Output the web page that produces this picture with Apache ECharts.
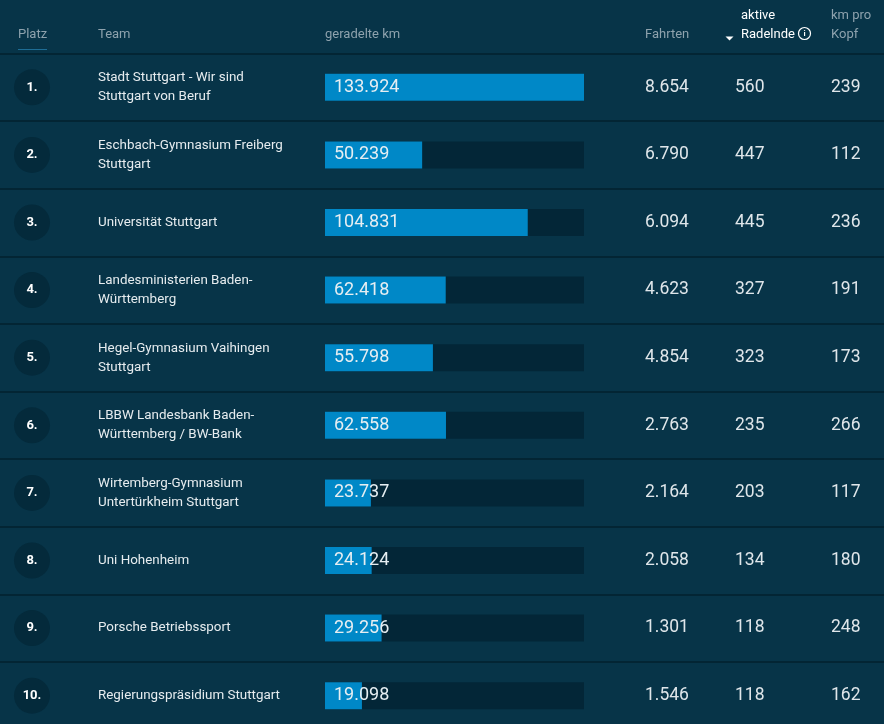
<!DOCTYPE html>
<html><head><meta charset="utf-8">
<script src="https://cdn.jsdelivr.net/npm/echarts@6/dist/echarts.min.js"></script>
<style>html,body{margin:0;padding:0;background:#073448;}#c{width:884px;height:724px;}</style>
</head><body><div id="c"></div>
<script>
const platz = ['1.','2.','3.','4.','5.','6.','7.','8.','9.','10.'];
const teams = [
  'Stadt Stuttgart - Wir sind\nStuttgart von Beruf',
  'Eschbach-Gymnasium Freiberg\nStuttgart',
  'Universität Stuttgart',
  'Landesministerien Baden-\nWürttemberg',
  'Hegel-Gymnasium Vaihingen\nStuttgart',
  'LBBW Landesbank Baden-\nWürttemberg / BW-Bank',
  'Wirtemberg-Gymnasium\nUntertürkheim Stuttgart',
  'Uni Hohenheim',
  'Porsche Betriebssport',
  'Regierungspräsidium Stuttgart'
];
const km = [133924, 50239, 104831, 62418, 55798, 62558, 23737, 24124, 29256, 19098];
const fahrten = [8654, 6790, 6094, 4623, 4854, 2763, 2164, 2058, 1301, 1546];
const radelnde = [560, 447, 445, 327, 323, 235, 203, 134, 118, 118];
const kmProKopf = [239, 112, 236, 191, 173, 266, 117, 180, 248, 162];
const headers = {platz:'Platz', team:'Team', km:'geradelte km', fahrten:'Fahrten', rad1:'aktive', rad2:'Radelnde', kopf1:'km pro', kopf2:'Kopf'};

const fmt = n => String(n).replace(/\B(?=(\d{3})+(?!\d))/g, '.');
const FONT = 'Roboto, "Noto Sans", sans-serif';
const maxKm = Math.max(...km);
// bar track: from x=325, 259px wide inside a full-width grid
const W = 884, barX = 325, barW = 259;
const unit = maxKm / barW;
const xMin = -barX * unit, xMax = (W - barX) * unit;

function catAxis(data, margin, extra) {
  return {
    type: 'category', inverse: true, data: data, position: 'left',
    axisLine: {show: false}, axisTick: {show: false}, splitLine: {show: false},
    axisLabel: Object.assign({inside: true, margin: margin, interval: 0, fontFamily: FONT}, extra)
  };
}

const chart = echarts.init(document.getElementById('c'), null, {renderer: 'canvas'});
const yAxes = [
  Object.assign(catAxis(platz, 32, {
    align: 'center', formatter: v => '{c|' + v + '}',
    rich: {c: {width: 36, height: 36, borderRadius: 18, backgroundColor: '#042a3b', align: 'center',
      color: '#ffffff', fontWeight: 'bold', fontSize: 13, fontFamily: FONT}}
  }), {splitLine: {show: true, interval: 0, lineStyle: {color: '#03202e', width: 1.5}}}),
  catAxis(teams, 98, {align: 'left', color: '#e6ecef', fontSize: 13.4, lineHeight: 19}),
  catAxis(fahrten.map(fmt), 645, {align: 'left', color: '#dfe6ea', fontSize: 17.5}),
  catAxis(radelnde.map(fmt), 735, {align: 'left', color: '#dfe6ea', fontSize: 17.5}),
  catAxis(kmProKopf.map(fmt), 831, {align: 'left', color: '#dfe6ea', fontSize: 17.5})
];

const hdr = (text, x, y, color, weight) => ({type: 'text', x: x, y: y,
  style: {text: text, fill: color, font: (weight || 'normal') + ' 13px ' + FONT, textVerticalAlign: 'middle'}});
const gray = '#8ea2ad';

chart.setOption({
  backgroundColor: '#073448',
  animation: false,
  grid: {left: 0, right: 0, top: 53.5, height: 676, containLabel: false, outerBoundsMode: 'none'},
  xAxis: {type: 'value', min: xMin, max: xMax, show: false},
  yAxis: yAxes,
  series: [
    {type: 'bar', yAxisIndex: 0, data: km.map(() => maxKm), barWidth: 27, barGap: '-100%',
      itemStyle: {color: '#032637'}, silent: true},
    {type: 'bar', yAxisIndex: 0, data: km, barWidth: 27, barGap: '-100%',
      itemStyle: {color: '#0088c7'},
      label: {show: true, position: 'insideLeft', distance: 9, color: '#e6eef2', fontSize: 18,
        fontFamily: FONT, formatter: p => fmt(p.value)}}
  ],
  graphic: [
    hdr(headers.platz, 18, 35, gray),
    {type: 'line', shape: {x1: 18, y1: 49.5, x2: 47, y2: 49.5}, style: {stroke: '#1e6d95', lineWidth: 1}},
    hdr(headers.team, 98, 35, gray),
    hdr(headers.km, 325, 35, gray),
    hdr(headers.fahrten, 645, 35, gray),
    hdr(headers.rad1, 741, 16, '#ffffff'),
    hdr(headers.rad2, 741, 35, '#ffffff'),
    {type: 'polygon', shape: {points: [[725.5, 36.5], [733.5, 36.5], [729.5, 40.5]]}, style: {fill: '#ffffff'}},
    {type: 'circle', shape: {cx: 804.5, cy: 33.5, r: 6}, style: {fill: 'none', stroke: '#ffffff', lineWidth: 1.2}},
    {type: 'text', x: 804.5, y: 34, style: {text: 'i', fill: '#ffffff', font: 'bold 8px ' + FONT, textAlign: 'center', textVerticalAlign: 'middle'}},
    hdr(headers.kopf1, 831, 16, gray),
    hdr(headers.kopf2, 831, 35, gray)
  ]
});
</script></body></html>
